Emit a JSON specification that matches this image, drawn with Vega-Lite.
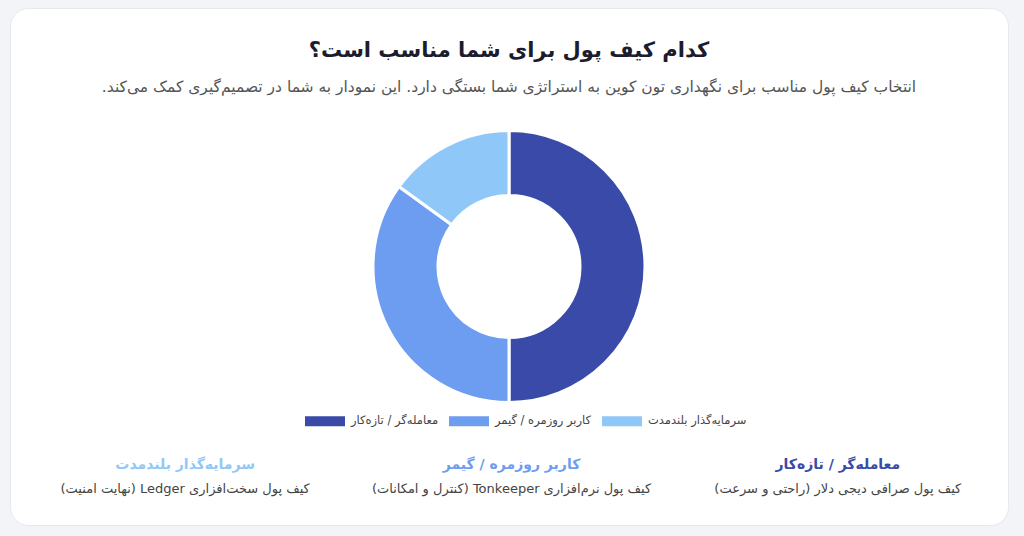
{
  "$schema": "https://vega.github.io/schema/vega-lite/v6.json",
  "width": 998,
  "height": 517,
  "autosize": {"type": "none"},
  "padding": {"left": 10, "top": 8, "right": 16, "bottom": 11},
  "background": "#f3f4f7",
  "view": {"fill": "#ffffff", "cornerRadius": 18, "stroke": "#e6e8ee", "strokeWidth": 1},
  "title": {
    "text": "کدام کیف پول برای شما مناسب است؟",
    "subtitle": "\u202bانتخاب کیف پول مناسب برای نگهداری تون کوین به استراتژی شما بستگی دارد. این نمودار به شما در تصمیم‌گیری کمک می‌کند.\u202c",
    "anchor": "middle",
    "frame": "group",
    "offset": -87,
    "font": "DejaVu Sans",
    "fontSize": 21,
    "fontWeight": "bold",
    "color": "#1b1c2e",
    "subtitleFont": "DejaVu Sans",
    "subtitleFontSize": 15.5,
    "subtitleColor": "#555555",
    "subtitlePadding": 19
  },
  "data": {
    "values": [
      {"role": "معامله‌گر / تازه‌کار", "share": 50, "desc": "\u202bکیف پول صرافی دیجی دلار (راحتی و سرعت)\u202c"},
      {"role": "کاربر روزمره / گیمر", "share": 35, "desc": "\u202bکیف پول نرم‌افزاری Tonkeeper (کنترل و امکانات)\u202c"},
      {"role": "سرمایه‌گذار بلندمدت", "share": 15, "desc": "\u202bکیف پول سخت‌افزاری Ledger (نهایت امنیت)\u202c"}
    ]
  },
  "layer": [
    {
      "mark": {"type": "arc", "innerRadius": 71, "outerRadius": 136, "stroke": "#ffffff", "strokeWidth": 3},
      "encoding": {
        "theta": {"field": "share", "type": "quantitative", "stack": true},
        "order": {"field": "share", "sort": "descending"},
        "color": {
          "field": "role",
          "type": "nominal",
          "scale": {
            "domain": ["معامله‌گر / تازه‌کار", "کاربر روزمره / گیمر", "سرمایه‌گذار بلندمدت"],
            "range": ["#3a4aa8", "#6d9df1", "#8fc8f8"]
          },
          "legend": {
            "orient": "none",
            "legendX": 295,
            "legendY": 393,
            "direction": "horizontal",
            "title": null,
            "symbolType": "M-1,-0.25H1V0.25H-1Z",
            "symbolSize": 1600,
            "symbolStrokeWidth": 0,
            "labelFont": "DejaVu Sans",
            "labelFontSize": 11.5,
            "labelColor": "#444444",
            "labelOffset": 6,
            "columnPadding": 10
          }
        }
      }
    },
    {
      "mark": {"type": "text", "font": "DejaVu Sans", "fontSize": 14, "fontWeight": "bold", "baseline": "middle"},
      "encoding": {
        "x": {
          "field": "role",
          "type": "nominal",
          "scale": {"domain": ["سرمایه‌گذار بلندمدت", "کاربر روزمره / گیمر", "معامله‌گر / تازه‌کار"], "range": [12, 991]},
          "axis": null
        },
        "y": {"datum": "heading", "type": "nominal", "scale": {"domain": ["heading", "desc"], "range": [457, 481], "padding": 0}, "axis": null},
        "text": {"field": "role"},
        "color": {"field": "role", "type": "nominal"}
      }
    },
    {
      "mark": {"type": "text", "font": "DejaVu Sans", "fontSize": 13, "color": "#444444", "baseline": "middle"},
      "encoding": {
        "x": {"field": "role", "type": "nominal", "axis": null},
        "y": {"datum": "desc", "type": "nominal", "axis": null},
        "text": {"field": "desc"}
      }
    }
  ]
}
